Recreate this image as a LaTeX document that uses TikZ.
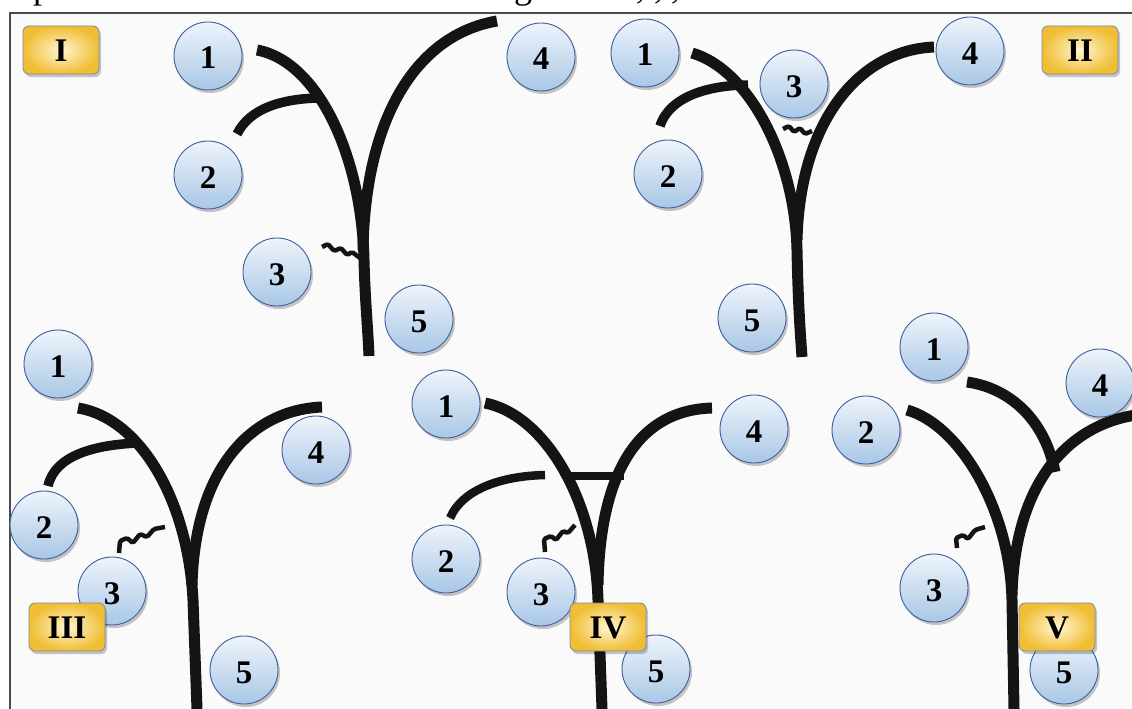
\documentclass[tikz,border=0pt]{standalone}
\usepackage{fontspec}
\setmainfont{Liberation Serif}
\usetikzlibrary{shadows}
\definecolor{bg}{HTML}{FAFAFA}
\definecolor{frame}{HTML}{4A4A4A}
\definecolor{cborder}{HTML}{3F5E9E}
\definecolor{ctop}{HTML}{EEF4FB}
\definecolor{cbot}{HTML}{A9C7E6}
\definecolor{yin}{HTML}{FFF6D2}
\definecolor{yout}{HTML}{F0BE35}
\definecolor{ybd}{HTML}{7F8796}
\definecolor{ink}{HTML}{141414}
\tikzset{
  num/.style={circle, minimum size=68pt, inner sep=0pt, draw=cborder, line width=0.9pt,
    top color=ctop, bottom color=cbot,
    drop shadow={shadow xshift=2pt, shadow yshift=-3pt, fill=black, opacity=0.22},
    font=\fontsize{33}{33}\selectfont\bfseries, text=black, text height=26pt, text depth=0pt},
  tag/.style={rectangle, rounded corners=6pt, minimum width=76pt, minimum height=48pt, inner sep=0pt,
    draw=ybd, line width=0.8pt, inner color=yin, outer color=yout,
    drop shadow={shadow xshift=2pt, shadow yshift=-3pt, fill=black, opacity=0.22},
    font=\fontsize{33}{33}\selectfont\bfseries, text=black, text height=23pt, text depth=0pt},
  stem/.style={draw=ink, line width=11pt},
  twig/.style={draw=ink, line width=9.5pt},
  wig/.style={draw=ink, line width=4.5pt, line join=round, rounded corners=1.5pt},
  cut/.style={anchor=base west, inner sep=0pt, font=\fontsize{36}{36}\selectfont},
}
\begin{document}
\begin{tikzpicture}[x=1pt, y=-1pt]
\useasboundingbox (0,0) rectangle (1132,709);
\fill[white] (0,0) rectangle (1132,709);
\fill[bg] (10,13) rectangle (1132,709);
% cut-off line of text above the frame
\begin{scope}
  \clip (0,0) rectangle (1132,11);
  \node[cut] (tp) at (33,-1) {p};
  \node[cut] (tg) at (514,-1) {g};
  \node[cut] (tc1) at (636,-1) {,};
  \node[cut] (tc2) at (654,-1) {,};
  \node[cut] (tc3) at (671,-1) {,};
\end{scope}
\draw[frame, line width=2pt] (10,709) -- (10,13) -- (1132,13);

% ---------- Panel I ----------
\draw[stem] (257,50) .. controls (320,62) and (362,160) .. (364,260) .. controls (365,300) and (368,330) .. (369,356);
\draw[stem] (363,250) .. controls (365,120) and (415,35) .. (497,21);
\draw[twig] (237,134) .. controls (250,108) and (282,99) .. (318,98);
\draw[wig] (322,247) -- (328,244) -- (334,251) -- (341,248) -- (347,255) -- (352,252) -- (360,258);
\node[num] (Ia) at (208,56) {1};
\node[num] (Ib) at (208,175) {2};
\node[num] (Ic) at (277,272) {3};
\node[num] (Id) at (541,57) {4};
\node[num] (Ie) at (419,319) {5};
\node[tag] (I) at (61,50) {I};

% ---------- Panel II ----------
\draw[stem] (692,53) .. controls (750,70) and (795,160) .. (797,250) .. controls (798,300) and (800,330) .. (802,357);
\draw[stem] (797,240) .. controls (800,120) and (860,50) .. (934,47);
\draw[twig] (660,126) .. controls (670,95) and (712,85) .. (748,85);
\draw[wig] (783,129) -- (789,126) -- (794,132) -- (800,128) -- (805,134) -- (812,131);
\node[num] (IIa) at (645,53) {1};
\node[num] (IIb) at (668,174) {2};
\node[num] (IIc) at (794,84) {3};
\node[num] (IId) at (970,51) {4};
\node[num] (IIe) at (752,318) {5};
\node[tag] (II) at (1080,50) {II};

% ---------- Panel III ----------
\draw[stem] (78,408) .. controls (140,418) and (188,500) .. (193,600) -- (197,709);
\draw[stem] (192,585) .. controls (195,470) and (250,410) .. (322,407);
\draw[twig] (48,486) .. controls (55,455) and (95,445) .. (137,443);
\draw[wig] (119,553) -- (120,541) -- (127,538) -- (133,543) -- (140,534) -- (147,537) -- (154,529) -- (165,527);
\node[num] (IIIa) at (58,364) {1};
\node[num] (IIIb) at (44,525) {2};
\node[num] (IIIc) at (112,591) {3};
\node[num] (IIId) at (316,450) {4};
\node[num] (IIIe) at (244,670) {5};
\node[tag] (III) at (67,627) {III};

% ---------- Panel IV ----------
\draw[stem] (485,403) .. controls (545,415) and (595,500) .. (598,600) -- (602,709);
\draw[stem] (598,585) .. controls (600,470) and (640,410) .. (712,408);
\draw[draw=ink, line width=7.5pt] (566,476) -- (624,476);
\draw[draw=ink, line width=8.5pt] (450,518) .. controls (462,490) and (500,476) .. (545,475);
\draw[wig] (545,552) -- (544,539) -- (551,536) -- (556,540) -- (563,531) -- (568,533) -- (575,525);
\node[num] (IVa) at (446,404) {1};
\node[num] (IVb) at (446,559) {2};
\node[num] (IVc) at (541,592) {3};
\node[num] (IVd) at (754,429) {4};
\node[num] (IVe) at (656,669) {5};
\node[tag] (IV) at (608,627) {IV};

% ---------- Panel V ----------
\draw[stem] (907,410) .. controls (960,425) and (1010,510) .. (1012,600) -- (1014,709);
\draw[stem] (1012,595) .. controls (1015,480) and (1070,425) .. (1136,415);
\draw[stem] (967,382) .. controls (1010,388) and (1045,420) .. (1055,472);
\draw[wig] (957,548) -- (956,538) -- (963,535) -- (968,539) -- (975,530) -- (985,527);
\node[num] (Va) at (934,347) {1};
\node[num] (Vb) at (866,430) {2};
\node[num] (Vc) at (934,588) {3};
\node[num] (Vd) at (1100,383) {4};
\node[num] (Ve) at (1064,670) {5};
\node[tag] (V) at (1057,627) {V};
\end{tikzpicture}
\end{document}
